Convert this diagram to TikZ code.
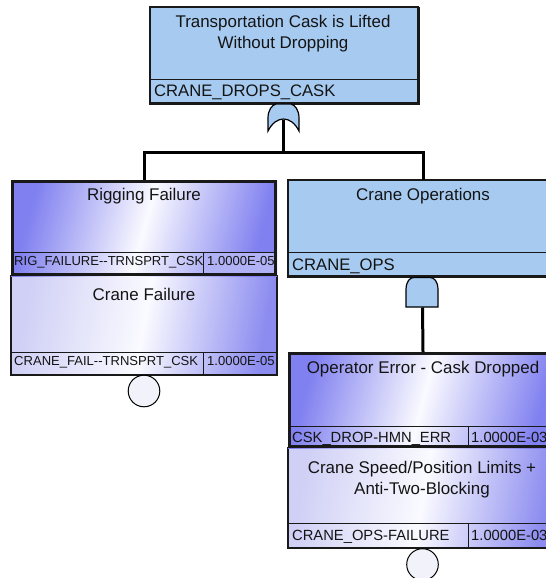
\documentclass[tikz,border=0pt]{standalone}
\usepackage{fontspec}
\setmainfont{Liberation Sans}
\begin{document}
\begin{tikzpicture}[x=1bp,y=-1bp]
\definecolor{gateblue}{RGB}{166,202,240}
\definecolor{evpurple}{RGB}{128,128,240}
\definecolor{evpurpleb}{RGB}{140,140,240}
\definecolor{evlav}{RGB}{208,208,246}
\definecolor{evwhite}{RGB}{250,250,255}
\definecolor{edge}{RGB}{25,25,25}
\definecolor{txt}{RGB}{20,20,20}
\definecolor{circfill}{RGB}{242,242,250}
\tikzset{
  box/.style={rectangle, inner sep=0pt, outer sep=0pt, anchor=north west, draw=edge},
  gatebox/.style={box, fill=gateblue, line width=1.2bp},
  evsel/.style={box, line width=3bp, left color=evpurple, right color=evpurple, middle color=evwhite, shading angle=75},
  evplain/.style={box, line width=1.2bp, left color=evlav, right color=evpurpleb, middle color=evwhite, shading angle=80},
  sepline/.style={draw=edge, line width=1bp},
  conn/.style={draw=black, line width=3bp},
  gateshape/.style={fill=gateblue, draw=black, line width=1.2bp},
  title/.style={font=\fontsize{17pt}{21pt}\selectfont, text=txt, inner sep=0pt, anchor=base},
  idbig/.style={font=\fontsize{16.7pt}{20pt}\selectfont, text=txt, inner sep=0pt, anchor=base west},
  idsmall/.style={font=\fontsize{13.1pt}{15pt}\selectfont, text=txt, inner sep=0pt, anchor=base west},
  idmid/.style={font=\fontsize{14.8pt}{17pt}\selectfont, text=txt, inner sep=0pt, anchor=base west},
  xfer/.style={circle, draw=black, line width=1bp, fill=circfill, minimum size=31.6bp, inner sep=0pt},
}
\useasboundingbox (0,0) rectangle (546,578);
\clip (0,0) rectangle (546,578);
\fill[white] (0,0) rectangle (546,578);

% ---------- top gate box ----------
\node[gatebox, minimum width=268bp, minimum height=97bp] (topbox) at (150,7) {};
\draw[sepline] (150,80) -- (418,80);
\draw[edge, line width=2.2bp] (150,103.5) -- (418.5,103.5) -- (418.5,7);
\node[title] (t1a) at (283,28) {Transportation Cask is Lifted};
\node[title] (t1b) at (283,49) {Without Dropping};
\node[idbig] (id1) at (154,97) {CRANE\_DROPS\_CASK};

% ---------- OR gate ----------
\draw[gateshape] (268,131) -- (268,118) .. controls (268,110) and (272,105) .. (276,104)
  -- (291,104) .. controls (295,105) and (299,110) .. (299,118) -- (299,131)
  .. controls (291,115) and (276,115) .. (268,131) -- cycle;
\coordinate (orout) at (283.5,120);
\coordinate (bar) at (283.5,153);

% ---------- left events ----------
\node[evplain, minimum width=266bp, minimum height=99bp] (cranefail) at (11,276) {};
\draw[sepline] (11,352) -- (277,352);
\draw[sepline] (203,352) -- (203,375);
\draw[edge, line width=2bp] (11,374.5) -- (277,374.5);
\node[title] (t3) at (144,300) {Crane Failure};
\node[idsmall] (id3) at (14,365) {CRANE\_FAIL-{}-TRNSPRT\_CSK};
\node[idsmall] (v3) at (207,365) {1.0000E-05};

\begin{scope}
\clip (11,180) rectangle (277,276);
\node[evsel, minimum width=266bp, minimum height=96bp, draw=none] (rig) at (11,180) {};
\node[idsmall] (id2) at (14,265) {RIG\_FAILURE-{}-TRNSPRT\_CSK};
\end{scope}
\fill[evpurple!60!evwhite] (204,253) rectangle (275.5,274);
\node[idsmall] (v2) at (207,265) {1.0000E-05};
\draw[sepline] (12,252) -- (276,252);
\draw[sepline] (203,252) -- (203,275);
\draw[edge, line width=3bp] (12.5,181.5) rectangle (275.5,274.5);
\node[title] (t2) at (144,200) {Rigging Failure};

\node[xfer] (c1) at (144,391) {};
\draw[conn] (orout) -- (bar);

% ---------- right side ----------
\node[gatebox, minimum width=270bp, minimum height=97bp] (ops) at (288,180) {};
\draw[sepline] (288,252) -- (558,252);
\draw[edge, line width=2.2bp] (288,276.5) -- (558,276.5);
\node[title] (t4) at (423,200) {Crane Operations};
\node[idbig] (id4) at (292,270) {CRANE\_OPS};

% connectors from OR gate
\draw[conn, line join=miter] (cranefail.north |- rig.north) -- (cranefail.north |- bar) -- (ops.north |- bar) -- (ops.north);

% AND gate
\draw[gateshape] (406,307) -- (406,290) .. controls (406,281) and (410,277.5) .. (414,277.5)
  -- (430,277.5) .. controls (434,277.5) and (438,281) .. (438,290) -- (438,307) -- cycle;
\coordinate (andout) at (422.5,307.5);

% crane speed event
\node[evplain, minimum width=270bp, minimum height=100bp] (speed) at (288,448) {};
\draw[sepline] (288,523) -- (558,523);
\draw[sepline] (468,523) -- (468,548);
\draw[edge, line width=2bp] (288,547.5) -- (558,547.5);
\node[title] (t6a) at (422,473) {Crane Speed/Position Limits +};
\node[title] (t6b) at (422,494) {Anti-Two-Blocking};
\node[idmid] (id6) at (292,540) {CRANE\_OPS-FAILURE};
\node[idmid] (v6) at (471,540) {1.0000E-03};

% operator error (selected)
\node[evsel, minimum width=270bp, minimum height=96bp, draw=none] (operr) at (288,352) {};
\draw[sepline] (289,426) -- (558,426);
\draw[sepline] (468,426) -- (468,447);
\draw[edge, line width=3bp] (289.5,353.5) rectangle (560,446.5);
\node[title] (t5) at (423,373) {Operator Error - Cask Dropped};
\node[idmid] (id5) at (292,442) {CSK\_DROP-HMN\_ERR};
\node[idmid] (v5) at (471,442) {1.0000E-03};

\draw[conn] (andout) -- (operr.north);
\node[xfer] (c2) at (422.5,564.5) {};
\end{tikzpicture}
\end{document}
